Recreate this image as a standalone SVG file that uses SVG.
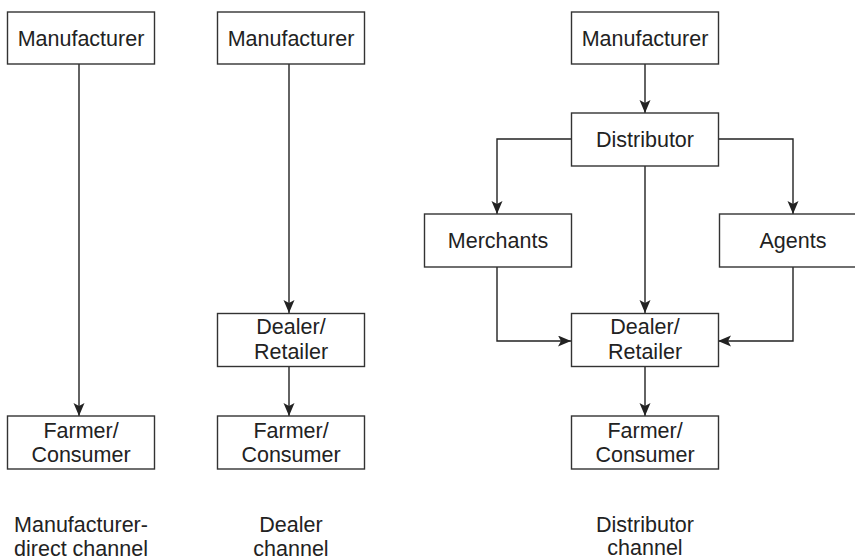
<svg xmlns="http://www.w3.org/2000/svg" width="855" height="559" viewBox="0 0 855 559">
<style>
rect.box{fill:#fff;stroke:#333;stroke-width:1.4}
text{font-family:"Liberation Sans",Arial,sans-serif;font-size:21.5px;fill:#222;text-anchor:middle}
.c path{fill:none;stroke:#222;stroke-width:1.4}
</style>
<defs>
<marker id="ah" markerUnits="userSpaceOnUse" markerWidth="14" markerHeight="12" refX="13" refY="5.5" orient="auto">
<path d="M0,0 L13,5.5 L0,11 L3,5.5 z" fill="#222"/>
</marker>
</defs>
<rect width="855" height="559" fill="#fff"/>
<g class="c" id="connectors">
<path d="M79,64 V416" marker-end="url(#ah)"/>
<path d="M289,64 V313" marker-end="url(#ah)"/>
<path d="M289,367 V416" marker-end="url(#ah)"/>
<path d="M645,64 V113" marker-end="url(#ah)"/>
<path d="M571,139 H497 V214" marker-end="url(#ah)"/>
<path d="M718,139 H793 V214" marker-end="url(#ah)"/>
<path d="M645,166 V313" marker-end="url(#ah)"/>
<path d="M497,267 V341 H571" marker-end="url(#ah)"/>
<path d="M793,267 V341 H718" marker-end="url(#ah)"/>
<path d="M645,367 V416" marker-end="url(#ah)"/>
</g>
<g id="mfr1"><rect class="box" x="7.5" y="12" width="147" height="52"/><text x="81" y="45.5">Manufacturer</text></g>
<g id="farmer1"><rect class="box" x="7.5" y="416" width="147" height="53"/><text x="81" y="437.5">Farmer/</text><text x="81" y="462">Consumer</text></g>
<g id="mfr2"><rect class="box" x="217.5" y="12" width="147" height="52"/><text x="291" y="45.5">Manufacturer</text></g>
<g id="dealer2"><rect class="box" x="217.5" y="313.5" width="147" height="53"/><text x="291" y="334">Dealer/</text><text x="291" y="359">Retailer</text></g>
<g id="farmer2"><rect class="box" x="217.5" y="416" width="147" height="53"/><text x="291" y="437.5">Farmer/</text><text x="291" y="462">Consumer</text></g>
<g id="mfr3"><rect class="box" x="571.5" y="12" width="147" height="52"/><text x="645" y="45.5">Manufacturer</text></g>
<g id="distributor"><rect class="box" x="571.5" y="113" width="147" height="53"/><text x="645" y="146.5">Distributor</text></g>
<g id="merchants"><rect class="box" x="424.5" y="214" width="147" height="53"/><text x="498" y="247.5">Merchants</text></g>
<g id="agents"><rect class="box" x="719.5" y="214" width="147" height="53"/><text x="793" y="247.5">Agents</text></g>
<g id="dealer3"><rect class="box" x="571.5" y="313.5" width="147" height="53"/><text x="645" y="334">Dealer/</text><text x="645" y="359">Retailer</text></g>
<g id="farmer3"><rect class="box" x="571.5" y="416" width="147" height="53"/><text x="645" y="437.5">Farmer/</text><text x="645" y="462">Consumer</text></g>
<g id="captions">
<text x="81" y="531.5">Manufacturer-</text><text x="81" y="555.5">direct channel</text>
<text x="291" y="531.5">Dealer</text><text x="291" y="555.5">channel</text>
<text x="645" y="531.5">Distributor</text><text x="645" y="554.5">channel</text>
</g>
</svg>
